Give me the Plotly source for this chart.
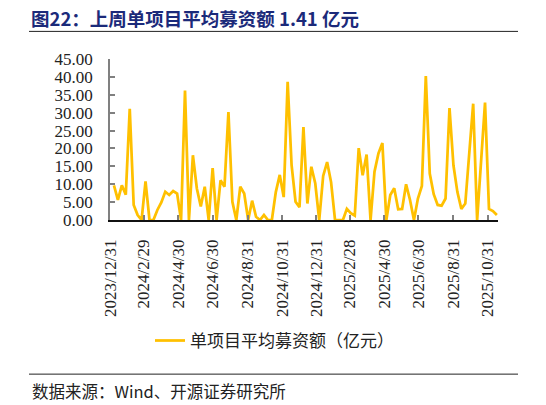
import pandas as pd
import plotly.graph_objects as go

# weekly average fundraising per project (亿元)
amounts = [
    9.7, 5.6, 9.7, 7.1, 31.1, 4.2, 1.4, 0.0, 10.8, 0.0,
    0.0, 2.8, 4.9, 7.9, 7.0, 8.1, 7.4, 0.0, 36.2, 0.0,
    18.1, 8.8, 3.8, 9.3, 0.0, 14.5, 0.0, 11.1, 9.3, 30.2,
    5.1, 0.0, 9.3, 7.4, 0.0, 5.4, 0.9, 0.0, 1.4, 0.0,
    0.0, 7.8, 12.6, 6.4, 38.6, 15.3, 5.1, 3.6, 26.0, 4.6,
    14.9, 10.2, 0.0, 12.3, 16.2, 10.6, 0.0, 0.0, 0.0, 3.1,
    1.9, 1.2, 20.1, 12.5, 18.3, 0.0, 13.5, 18.6, 21.5, 0.0,
    7.0, 8.9, 3.0, 3.1, 10.0, 5.6, 0.0, 6.0, 9.5, 40.2,
    13.0, 7.2, 4.2, 4.0, 6.0, 31.3, 15.3, 7.8, 3.1, 4.6,
    19.0, 32.5, 0.0, 18.1, 32.8, 3.1, 2.5, 1.41,
]
weeks = pd.date_range("2024-01-07", periods=len(amounts), freq="7D")

tick_dates = [
    "2023-12-31", "2024-02-29", "2024-04-30", "2024-06-30",
    "2024-08-31", "2024-10-31", "2024-12-31", "2025-02-28",
    "2025-04-30", "2025-06-30", "2025-08-31", "2025-10-31",
]
tick_text = [d.replace("-0", "/").replace("-", "/") for d in tick_dates]

title = "图22：上周单项目平均募资额 1.41 亿元"
series_name = "单项目平均募资额（亿元）"
source = "数据来源：Wind、开源证券研究所"

CJK = "Noto Sans CJK SC"
SERIF = "Liberation Serif"

# the page body has an 8px margin, so the figure is drawn 8px in from the corner
W, H = 538, 397

fig = go.Figure()
fig.add_trace(
    go.Scatter(
        x=weeks,
        y=amounts,
        mode="lines",
        name=series_name,
        line=dict(color="#FFC000", width=2.75),
    )
)

# plot box on screen: x 110..498, y 58.7..220.3
plot_h = 161.6
plot_w = 388.0


def py(y_px):
    return (220.3 - y_px) / plot_h


def px(x_px):
    return (x_px - 110) / plot_w


for y_px in (31, 375):
    fig.add_shape(
        type="line", xref="paper", yref="paper",
        x0=px(29), x1=px(518), y0=py(y_px), y1=py(y_px),
        line=dict(color="#222222", width=1),
    )

fig.add_annotation(
    text=source, xref="paper", yref="paper",
    x=px(30), y=py(391.5), xanchor="left", yanchor="middle",
    showarrow=False, font=dict(family=CJK, size=16.5, color="#222222"),
)

fig.update_xaxes(
    type="date",
    range=["2023-12-31", "2025-11-18"],
    tickvals=tick_dates,
    ticktext=tick_text,
    tickangle=-90,
    tickfont=dict(family=SERIF, size=17, color="#222222"),
    showline=True, linecolor="#111111", linewidth=1.5,
    ticks="inside", ticklen=5, tickcolor="#808080", tickwidth=1.5,
    ticklabelstandoff=11,
    showgrid=False, zeroline=False,
)
fig.update_yaxes(
    range=[0, 45],
    dtick=5,
    tickformat=".2f",
    tickfont=dict(family=SERIF, size=17, color="#222222"),
    showline=True, linecolor="#808080", linewidth=1.5,
    ticks="inside", ticklen=5, tickcolor="#808080", tickwidth=1.5,
    ticklabelstandoff=12,
    showgrid=False, zeroline=False,
)

fig.update_layout(
    width=W,
    height=H,
    margin=dict(l=102, r=W - 490, t=50.7, b=H - 212.3),
    paper_bgcolor="white",
    plot_bgcolor="white",
    title=dict(
        text="<b>" + title + "</b>",
        xref="container", yref="container",
        x=23 / W, y=1 - 12 / H,
        xanchor="left", yanchor="middle",
        font=dict(family=CJK, size=18.5, color="#1B2A7A"),
    ),
    showlegend=True,
    legend=dict(
        orientation="h",
        x=px(150), y=py(341.7),
        xanchor="left", yanchor="middle",
        font=dict(family=CJK, size=17, color="#222222"),
        bgcolor="rgba(0,0,0,0)",
    ),
)

fig.write_html("out.html")
